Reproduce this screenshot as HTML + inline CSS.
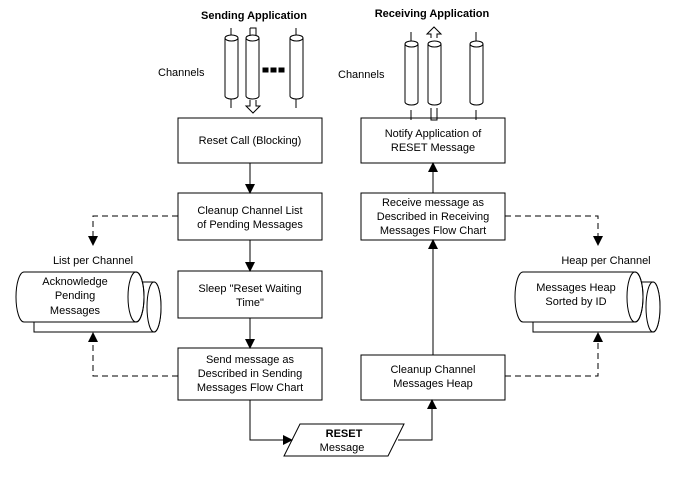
<!DOCTYPE html>
<html><head><style>body{margin:0;background:#fff}svg{display:block}text{font-family:"Liberation Sans",sans-serif;font-size:11px;fill:#000}</style></head><body>
<svg width="676" height="485" viewBox="0 0 676 485" xmlns="http://www.w3.org/2000/svg">
<defs>
<marker id="a" markerWidth="10" markerHeight="10" refX="9" refY="5" orient="auto" markerUnits="userSpaceOnUse"><path d="M0,0 L10,5 L0,10 z" fill="#000"/></marker>
<g id="cyl"><path d="M0,6 v58 a6.5,3 0 0 0 13,0 v-58" fill="#fff" stroke="#000"/><ellipse cx="6.5" cy="6" rx="6.5" ry="3" fill="#fff" stroke="#000"/></g>
</defs>
<g stroke="#000" fill="none">
<text x="254" y="19" text-anchor="middle" font-weight="bold" font-size="12" stroke="none">Sending Application</text>
<text x="432" y="17" text-anchor="middle" font-weight="bold" font-size="12" stroke="none">Receiving Application</text>
<text x="158" y="76" stroke="none">Channels</text>
<text x="338" y="78" stroke="none">Channels</text>
<path d="M231,28v10M231,98v10M296,28v10M296,98v10"/>
<use href="#cyl" x="225" y="32"/><use href="#cyl" x="290" y="32"/>
<use href="#cyl" x="246" y="32"/>
<path d="M250,28 h6 v8 M250,28 v8"/>
<path d="M250,100 v6 h-4 l7,7 l7,-7 h-4 v-6" fill="#fff"/>
<rect x="263" y="68" width="5" height="4" fill="#000"/><rect x="271" y="68" width="5" height="4" fill="#000"/><rect x="279" y="68" width="5" height="4" fill="#000"/>
<path d="M411,32v10M411,110v10M476,32v10M476,110v10"/>
<use href="#cyl" x="405" y="38"/><use href="#cyl" x="470" y="38"/><use href="#cyl" x="428" y="38"/>
<path d="M431,38 v-4 h-4 l7,-7 l7,7 h-4 v4" fill="#fff"/>
<path d="M431,108 v12 h6 v-12"/>
<rect x="178" y="118" width="144" height="45"/>
<rect x="178" y="193" width="144" height="47"/>
<rect x="178" y="271" width="144" height="47"/>
<rect x="178" y="348" width="144" height="52"/>
<rect x="361" y="118" width="144" height="45"/>
<rect x="361" y="193" width="144" height="47"/>
<rect x="361" y="355" width="144" height="45"/>
<path d="M300,424 h104 l-16,32 h-104 z"/>
<path d="M250,163 v30" marker-end="url(#a)"/>
<path d="M250,240 v31" marker-end="url(#a)"/>
<path d="M250,318 v30" marker-end="url(#a)"/>
<path d="M433,193 v-30" marker-end="url(#a)"/>
<path d="M433,355 v-115" marker-end="url(#a)"/>
<path d="M250,400 v40 h42" marker-end="url(#a)"/>
<path d="M398,440 h34 v-40" marker-end="url(#a)"/>
<g stroke-dasharray="6,4">
<path d="M178,216 h-85 v29" marker-end="url(#a)"/>
<path d="M505,216 h93 v29" marker-end="url(#a)"/>
<path d="M178,376 h-85 v-43" marker-end="url(#a)"/>
<path d="M505,376 h93 v-43" marker-end="url(#a)"/>
</g>
<path d="M34,282 h120 a7,25 0 0 1 0,50 h-120 z" fill="#fff"/>
<ellipse cx="154" cy="307" rx="7" ry="25" fill="#fff"/>
<path d="M24,272 h112 a8,25 0 0 1 0,50 h-112 a8,25 0 0 1 0,-50 z" fill="#fff"/>
<ellipse cx="136" cy="297" rx="8" ry="25"/>
<path d="M533,282 h120 a7,25 0 0 1 0,50 h-120 z" fill="#fff"/>
<ellipse cx="653" cy="307" rx="7" ry="25" fill="#fff"/>
<path d="M523,272 h112 a8,25 0 0 1 0,50 h-112 a8,25 0 0 1 0,-50 z" fill="#fff"/>
<ellipse cx="635" cy="297" rx="8" ry="25"/>
</g>
<g text-anchor="middle">
<text x="93" y="264">List per Channel</text>
<text x="75" y="285">Acknowledge</text><text x="75" y="299">Pending</text><text x="75" y="314">Messages</text>
<text x="606" y="264">Heap per Channel</text>
<text x="576" y="291">Messages Heap</text><text x="576" y="305">Sorted by ID</text>
<text x="250" y="144">Reset Call (Blocking)</text>
<text x="250" y="214">Cleanup Channel List</text><text x="250" y="228">of Pending Messages</text>
<text x="250" y="292">Sleep "Reset Waiting</text><text x="250" y="306">Time"</text>
<text x="250" y="363">Send message as</text><text x="250" y="377">Described in Sending</text><text x="250" y="391">Messages Flow Chart</text>
<text x="433" y="137">Notify Application of</text><text x="433" y="151">RESET Message</text>
<text x="433" y="206">Receive message as</text><text x="433" y="220">Described in Receiving</text><text x="433" y="234">Messages Flow Chart</text>
<text x="433" y="373">Cleanup Channel</text><text x="433" y="387">Messages Heap</text>
<text x="344" y="437" font-weight="bold" font-size="12">RESET</text><text x="342" y="451">Message</text>
</g>
</svg>
</body></html>
